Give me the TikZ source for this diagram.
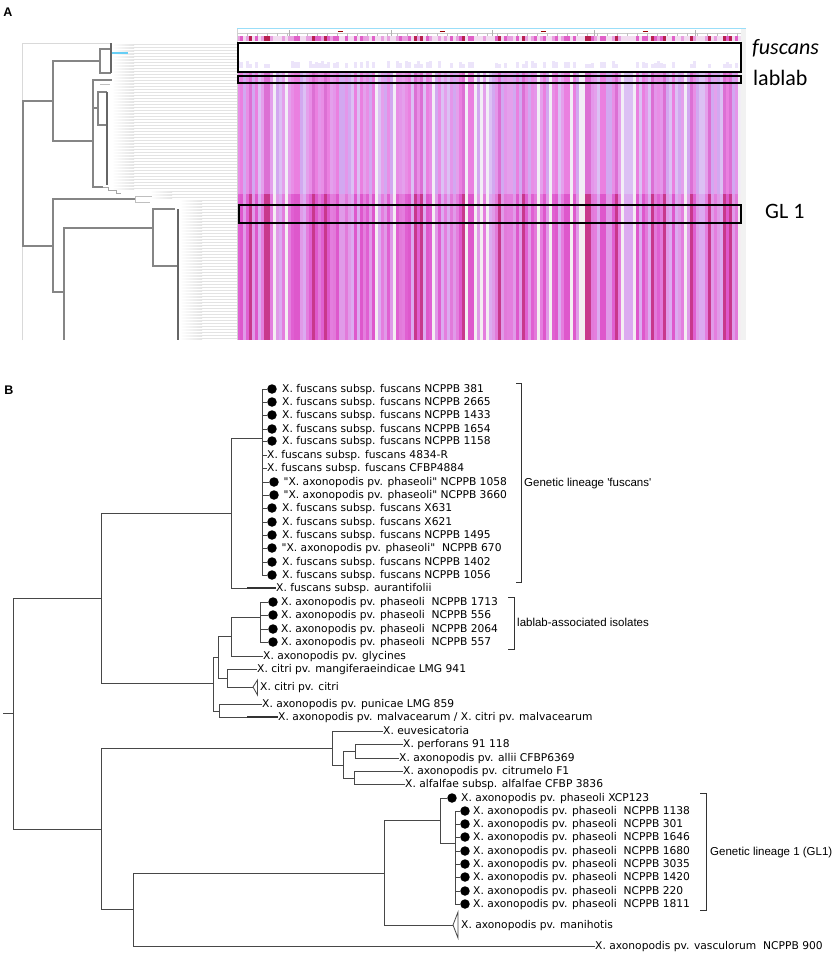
\documentclass[tikz,border=0pt]{standalone}
\usepackage{fontspec}
\setmainfont{Liberation Sans}[Ligatures=TeXOff]
\newfontfamily\leaffont{DejaVu Sans}[Ligatures=TeXOff]
\newfontfamily\capfont{Carlito}
% heat map palettes
\definecolor{mid1}{HTML}{F2EEF6}\definecolor{mid2}{HTML}{DCC0F4}
\definecolor{mid3}{HTML}{D2A8F0}\definecolor{mid4}{HTML}{E4A0EC}
\definecolor{mid5}{HTML}{E88EE6}\definecolor{mid6}{HTML}{EA80E0}
\definecolor{mid7}{HTML}{E496EA}\definecolor{mid8}{HTML}{DC70D4}
\definecolor{low1}{HTML}{F4EEF2}\definecolor{low2}{HTML}{DCAAF0}
\definecolor{low3}{HTML}{E09AE8}\definecolor{low4}{HTML}{E47EDE}
\definecolor{low5}{HTML}{E060D2}\definecolor{low6}{HTML}{DE58CC}
\definecolor{low7}{HTML}{E27ADA}\definecolor{low8}{HTML}{C8388C}
\definecolor{tick1}{HTML}{F2DCF0}\definecolor{tick2}{HTML}{F2DCF0}
\definecolor{tick3}{HTML}{F2DCF0}\definecolor{tick4}{HTML}{E8A0E0}
\definecolor{tick5}{HTML}{E8A0E0}\definecolor{tick6}{HTML}{E060C8}
\definecolor{tick7}{HTML}{E060C8}\definecolor{tick8}{HTML}{B82050}
\definecolor{fus}{HTML}{ECE4FA}
\tikzset{
  branch/.style={draw=black!72,line width=0.8pt},
  abranch/.style={draw=black!48,line width=1.2pt},
  leaf/.style={anchor=west,inner sep=0pt,text height=7.8pt,text depth=0pt,
    font=\leaffont\fontsize{10.7}{12}\selectfont},
  blabel/.style={anchor=west,inner sep=0pt,text height=8.3pt,text depth=0pt,
    font=\fontsize{11.5}{13}\selectfont},
  dot/.style={circle,fill=black,inner sep=0pt,minimum size=9.5pt},
  box/.style={draw=black,line width=1.6pt},
  capt/.style={anchor=base west,inner sep=0pt,font=\capfont\fontsize{22}{24}\selectfont},
  bracket/.style={draw=black!80,line width=0.8pt},
  panel/.style={inner sep=0pt,font=\bfseries\fontsize{12.5}{14}\selectfont}
}
\begin{document}
\begin{tikzpicture}[x=1pt,y=-1pt]
\useasboundingbox (0,0) rectangle (834,954);
\node[panel] (pa) at (8,12) {A};
\node[panel] (pb) at (9,390) {B};

% --- panel A: leaf stripes
\foreach \y in {44,47,...,338}{
  \ifnum\y<190 \def\xs{112}\else\ifnum\y<200 \def\xs{150}\else\def\xs{180}\fi\fi
  \shade[left color=white,right color=gray!22] (\xs,\y) rectangle ({\xs+22},\y+1.4);
  \fill[gray!22] ({\xs+22},\y) rectangle (237,\y+1.4);
}
\draw[gray!30,line width=1pt] (22,340) -- (22,43) -- (112,43);

% --- panel A: tree
\path (23,173) coordinate (aR) (53,101) coordinate (aU) (53,246) coordinate (aL)
  (100,61) coordinate (aF) (93,141) coordinate (aM) (111,49) coordinate (aF1)
  (111,73) coordinate (aF2) (112,80) coordinate (aM1) (98,108) coordinate (aM2)
  (107,92) coordinate (aM3) (103,187) coordinate (aM4) (107,125) coordinate (aM5)
  (135,199) coordinate (aL1) (64,292) coordinate (aL2) (153,228) coordinate (aG)
  (175,209) coordinate (aG1) (178,266) coordinate (aG2);
\foreach \p/\c in {aR/aU,aR/aL,aU/aF,aU/aM,aF/aF1,aF/aF2,aM/aM1,aM/aM2,aM/aM4,
  aM2/aM3,aM2/aM5,aL/aL1,aL/aL2,aL2/aG,aG/aG1,aG/aG2}
  \draw[abranch] (\p) |- (\c);
\draw[abranch] (aL2) -- (64,340);
\draw[black!60,line width=1.2pt] (111,43) -- (111,73) (107,92) -- (107,185) (178,209) -- (178,340);
\draw[cyan!60,line width=1.2pt] (112,53) -- (128,53);
\draw[black!35,line width=1pt] (aM4) -- (108,187) -- (108,190) -- (116,190) -- (116,193) -- (121,193);
\draw[black!25,line width=1pt] (aL1) |- (152,196) (aL1) |- (150,202) (100,84) -- (110,84);

% --- panel A: heat map
\pgfmathsetseed{4}
\foreach \i in {0,...,167}{
  \pgfmathrandominteger{\k}{1}{8}
  \pgfmathsetmacro{\xa}{237+3*\i}
  \fill[mid\k] (\xa,73) rectangle (\xa+3,194);
  \fill[low\k] (\xa,194) rectangle (\xa+3,340);
  \fill[tick\k] (\xa,36) rectangle (\xa+3,41);
  \ifnum\k>4 \fill[fus] (\xa,56+\k) rectangle (\xa+3,68);\fi
}
\fill[gray!10] (741,28) rectangle (746,340);
\draw[gray!35] (237,28) -- (237,340);
\draw[cyan!40,line width=1.5pt] (237,28.5) -- (746,28.5);
\draw[gray!40,line width=0.4pt] (237,33) -- (741,33);
\foreach \x in {247,257,...,737} \draw[gray!50,line width=0.4pt] (\x,33) -- (\x,35.5);
\foreach \x in {289,391,492,594,695} \draw[gray!60,line width=0.5pt] (\x,30) -- (\x,36);
\foreach \x in {340,442,543,645} \draw[red!60!black,line width=0.8pt] (\x-2.5,31.5) -- (\x+2.5,31.5);
\draw[box] (238,43) rectangle (741,72);
\draw[box] (238,76) rectangle (741,83);
\draw[box] (239,205) rectangle (741,223);
\node[capt] (cfus) at (752,54) {\itshape fuscans};
\node[capt] (clab) at (753,85) {lablab};
\node[capt] (cgl) at (765,218) {GL 1};

% --- panel B: tree
\path (3,713) coordinate (r0) (13,713) coordinate (R)
  (101,598) coordinate (U) (101,829) coordinate (L) (231,513) coordinate (F)
  (262,438) coordinate (fus) (213,683) coordinate (C2) (218,657) coordinate (N1)
  (219,711) coordinate (N2) (231,636) coordinate (N3) (227,678) coordinate (N4)
  (260,617) coordinate (lab) (332,748) coordinate (E) (343,765) coordinate (E2)
  (355,751) coordinate (E3) (354,778) coordinate (E4) (133,909) coordinate (G)
  (384,873) coordinate (H) (440,820) coordinate (GL) (455,843) coordinate (gl)
  (253,687) coordinate (ct) (453,925) coordinate (mt);
\draw[branch] (r0) -- (R);
\foreach \p/\c in {R/U,R/L,U/F,F/fus,U/C2,C2/N1,C2/N2,N1/N3,N1/N4,N3/lab,
  L/E,E/E2,E2/E3,E2/E4,L/G,G/H,H/GL,GL/gl,N4/ct,H/mt}
  \draw[branch] (\p) |- (\c);

% fuscans lineage
\foreach \y/\t [count=\i] in {389/NCPPB 381,402/NCPPB 2665,415/NCPPB 1433,
  429/NCPPB 1654,441/NCPPB 1158,508/X631,522/X621,535/NCPPB 1495,
  562/NCPPB 1402,575/NCPPB 1056}{
  \node[dot] (fd\i) at (272,\y) {};
  \node[leaf] (ft\i) at (282,\y) {X. fuscans subsp. fuscans \t};
  \draw[branch] (fus) |- (fd\i.west);
}
\foreach \y/\t [count=\i] in {455/4834-R,468/CFBP4884}{
  \node[leaf] (fn\i) at (267,\y) {X. fuscans subsp. fuscans \t};
  \draw[branch] (fus) |- (fn\i.west);
}
\foreach \y/\x/\t [count=\i] in {482/274/NCPPB 1058,495/274/NCPPB 3660,548/272/\ NCPPB 670}{
  \node[dot] (pd\i) at (\x,\y) {};
  \node[leaf] (pt\i) at (\x+9.5,\y) {"X. axonopodis pv. phaseoli" \t};
  \draw[branch] (fus) |- (pd\i.west);
}
\node[leaf] (aur) at (276,588) {X. fuscans subsp. aurantifolii};
\draw[branch] (F) |- (aur.west);
\draw[black!80,line width=1.6pt] (247,588) -- (aur.west);

% lablab and neighbours
\foreach \y/\t [count=\i] in {602/1713,615/556,629/2064,642/557}{
  \node[dot] (ld\i) at (273,\y) {};
  \node[leaf] (lt\i) at (281,\y) {X. axonopodis pv. phaseoli\ \ NCPPB \t};
  \draw[branch] (lab) |- (ld\i.west);
}
\node[leaf] (gly) at (263,656) {X. axonopodis pv. glycines};
\node[leaf] (man) at (257,669) {X. citri pv. mangiferaeindicae LMG 941};
\node[leaf] (cit) at (260,687) {X. citri pv. citri};
\node[leaf] (pun) at (262,704) {X. axonopodis pv. punicae LMG 859};
\node[leaf] (mal) at (278,717) {X. axonopodis pv. malvacearum / X. citri pv. malvacearum};
\draw[branch] (N3) |- (gly.west);
\draw[branch] (N4) |- (man.west);
\draw[branch] (ct) -- (257.5,680) -- (257.5,695) -- cycle;
\draw[branch] (N2) |- (pun.west);
\draw[branch] (N2) |- (mal.west);
\draw[black!80,line width=1.6pt] (247,717) -- (mal.west);

% lower clade
\node[leaf] (euv) at (383,731) {X. euvesicatoria};
\node[leaf] (per) at (403,744) {X. perforans 91 118};
\node[leaf] (all) at (399,758) {X. axonopodis pv. allii CFBP6369};
\node[leaf] (ctm) at (403,771) {X. axonopodis pv. citrumelo F1};
\node[leaf] (alf) at (405,784) {X. alfalfae subsp. alfalfae CFBP 3836};
\foreach \p/\c in {E/euv,E3/per,E3/all,E4/ctm,E4/alf}
  \draw[branch] (\p) |- (\c.west);
\node[dot] (xd) at (452,798) {};
\node[leaf] (xt) at (461,798) {X. axonopodis pv. phaseoli XCP123};
\draw[branch] (GL) |- (xd.west);
\foreach \y/\t [count=\i] in {811/1138,824/301,837/1646,851/1680,864/3035,
  877/1420,891/220,904/1811}{
  \node[dot] (gd\i) at (465,\y) {};
  \node[leaf] (gt\i) at (473,\y) {X. axonopodis pv. phaseoli\ \ NCPPB \t};
  \draw[branch] (gl) |- (gd\i.west);
}
\node[leaf] (mhs) at (461,925) {X. axonopodis pv. manihotis};
\draw[branch] (mt) -- (458,912) -- (458,938) -- cycle;
\node[leaf] (vas) at (595,946) {X. axonopodis pv. vasculorum\ \ NCPPB 900};
\draw[branch] (G) |- (vas.west);

% brackets
\draw[bracket] (516,383) -- (521,383) -- (521,582) -- (516,582);
\draw[bracket] (508,597) -- (514,597) -- (514,649) -- (508,649);
\draw[bracket] (700,793) -- (706,793) -- (706,910) -- (700,910);
\node[blabel] (bfus) at (524,482) {Genetic lineage 'fuscans'};
\node[blabel] (blab) at (517,622) {lablab-associated isolates};
\node[blabel] (bgl) at (710,851) {Genetic lineage 1 (GL1)};
\end{tikzpicture}
\end{document}
